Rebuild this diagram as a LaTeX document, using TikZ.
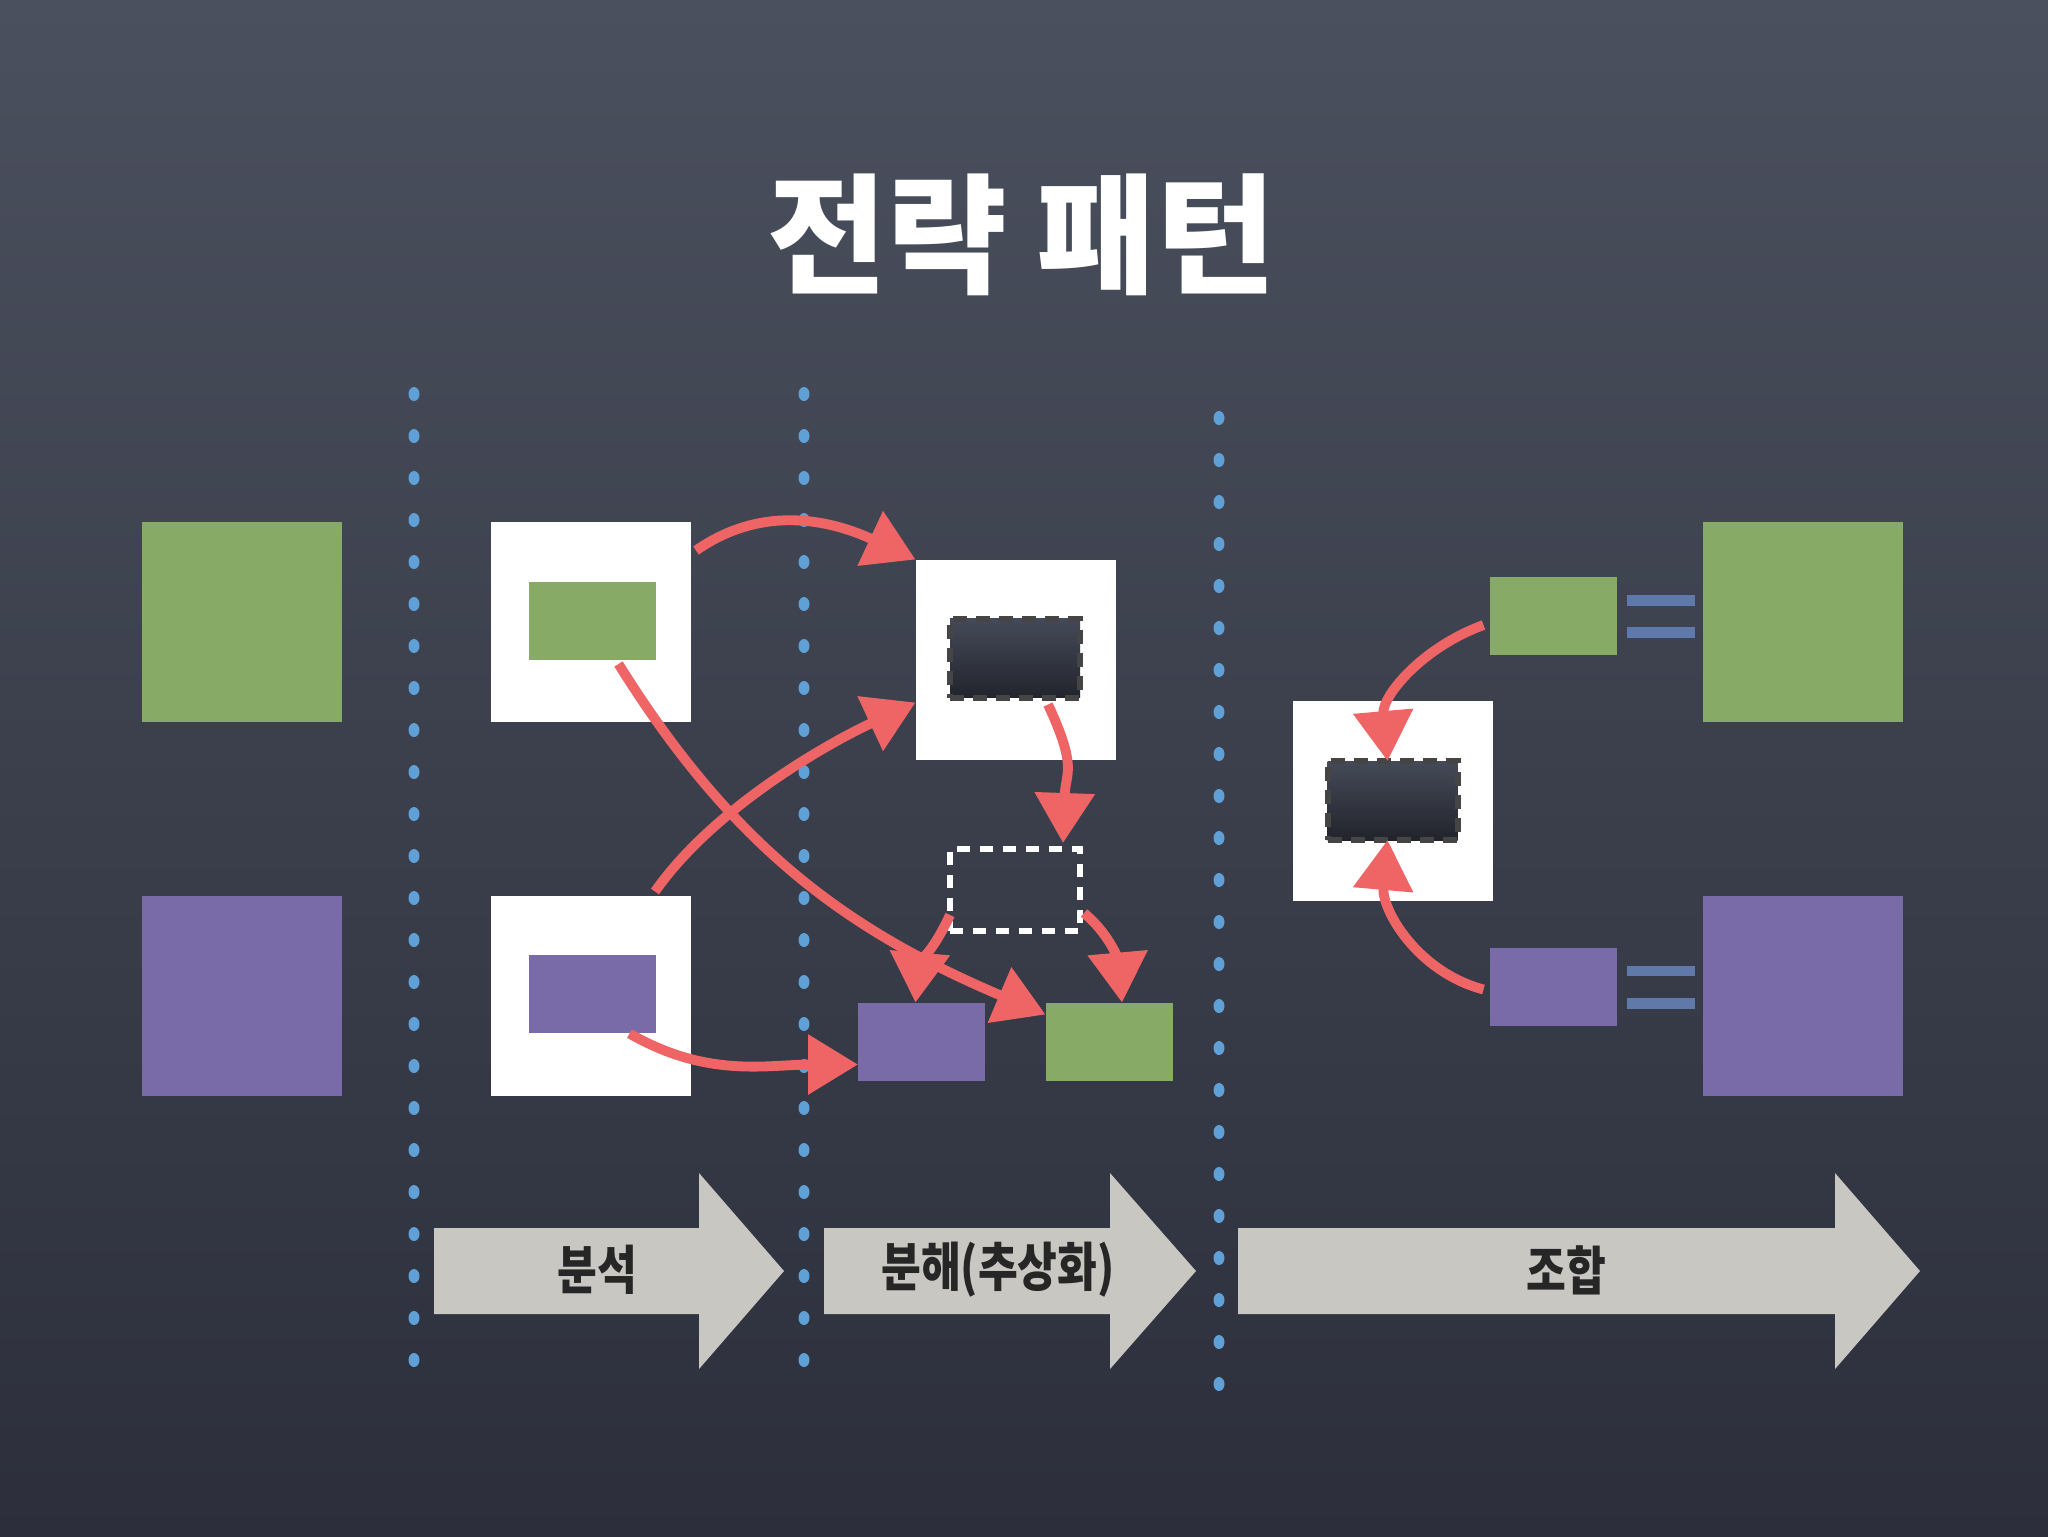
\documentclass[tikz,border=0pt]{standalone}
\usepackage{fontspec}
\usepackage{tikz}
\usetikzlibrary{arrows.meta,positioning,calc}
\newfontfamily\krtitle{Noto Sans CJK KR}
\newfontfamily\krlabel[FakeStretch=0.82]{Noto Sans CJK KR}
\definecolor{boardtop}{HTML}{4B505E}
\definecolor{boardbot}{HTML}{2C2F3B}
\definecolor{leafgreen}{HTML}{87AA67}
\definecolor{grape}{HTML}{796BA8}
\definecolor{chalkred}{HTML}{EF6565}
\definecolor{dotblue}{HTML}{5FA0D7}
\definecolor{stagegray}{HTML}{C8C7C2}
\definecolor{eqblue}{HTML}{5F7AAA}
\definecolor{holetop}{HTML}{454A58}
\definecolor{holebot}{HTML}{22242C}
\definecolor{holeedge}{HTML}{454545}

\begin{document}
\begin{tikzpicture}[
        x=0.1mm, y=-0.1mm,
        node distance=17.4mm,
        every node/.style={inner sep=0pt, outer sep=0pt},
        bigsq/.style={minimum width=20mm, minimum height=20mm},
        whitebox/.style={fill=white, minimum width=20mm, minimum height=20mm},
        chip/.style={minimum width=12.7mm, minimum height=7.8mm},
        hole/.style={minimum width=13mm, minimum height=7.9mm, top color=holetop, bottom color=holebot, draw=holeedge, line width=0.6mm, dash pattern=on 1.4mm off 0.9mm},
        slot/.style={minimum width=13mm, minimum height=8.2mm, draw=white, line width=0.55mm, dash pattern=on 1.3mm off 1mm},
        chalk/.style={draw=chalkred, line width=2.8pt, -{Triangle[length=5mm, width=5.8mm]}},
        stagelabel/.style={text=black!85, font=\krlabel\bfseries\fontsize{15pt}{18pt}\selectfont},
        eqbar/.style={fill=eqblue}
    ]
    \shade[top color=boardtop, bottom color=boardbot] (0,0) rectangle (2048,1536);
    \useasboundingbox (0,0) rectangle (2048,1536);

    \node[text=white, font=\krtitle\bfseries\fontsize{37pt}{40pt}\selectfont] (title) at (1022,235) {전략 패턴};

    \foreach \x/\ys in {414/394, 804/394, 1219/418}
        \foreach \i in {0,...,23}
            \fill[dotblue] (\x,\ys+42*\i) ellipse [x radius=0.55mm, y radius=0.7mm];

    \node[bigsq, fill=leafgreen] (srcG) at (241.5,621.5) {};
    \node[bigsq, fill=grape] (srcP) [below=of srcG] {};

    \node[whitebox] (anaG) at (591,621.5) {};
    \node[chip, fill=leafgreen] (anaGi) at (592.5,621) {};
    \node[whitebox] (anaP) [below=of anaG] {};
    \node[chip, fill=grape] (anaPi) at (592.5,993.5) {};

    \node[whitebox] (decW) at (1015.5,659.5) {};
    \node[hole] (decD) at (1015,658) {};
    \node[slot] (decE) at (1015,890) {};
    \node[chip, fill=grape] (decP) at (921.5,1041.5) {};
    \node[chip, fill=leafgreen] (decG) at (1109,1041.5) {};

    \node[whitebox] (comW) at (1393,801) {};
    \node[hole] (comD) at (1392.5,800.5) {};
    \node[chip, fill=leafgreen] (comG) at (1553,616) {};
    \node[chip, fill=grape] (comP) at (1553,986.5) {};

    \node[bigsq, fill=leafgreen] (dstG) at (1803,621.5) {};
    \node[bigsq, fill=grape] (dstP) [below=of dstG] {};

    \foreach \n in {comG, comP} {
        \fill[eqbar] ($(\n.east)+(10,-21)$) rectangle ++(68,10.5);
        \fill[eqbar] ($(\n.east)+(10,11)$) rectangle ++(68,11);
    }

    \draw[chalk] ([xshift=0.5mm,yshift=-2.9mm]anaG.north east) to[out=35,in=155] (decW.north west);
    \draw[chalk] ([xshift=2.6mm,yshift=-0.4mm]anaGi.south) to[out=-58,in=157] ([yshift=-1.2mm]decG.north west);
    \draw[chalk] ([xshift=-3.6mm,yshift=0.4mm]anaP.north east) to[out=55,in=-155,looseness=0.8] ([yshift=5.7mm]decW.south west);
    \draw[chalk] ([xshift=3.7mm,yshift=-0.1mm]anaPi.south) to[out=-30,in=180] ([yshift=1.6mm]decP.south west);
    \draw[chalk] ([xshift=-3.2mm,yshift=-0.7mm]decD.south east) to[out=-65,in=88,looseness=1.3] ([xshift=-1.7mm,yshift=0.6mm]decE.north east);
    \draw[chalk] ([yshift=1.6mm]decE.south west) to[out=-115,in=85] ([xshift=-0.6mm]decP.north);
    \draw[chalk] ([xshift=0.4mm,yshift=1.8mm]decE.south east) to[out=-40,in=95] ([xshift=1.3mm]decG.north);
    \draw[chalk] ([xshift=-0.6mm,yshift=-0.9mm]comG.west) to[out=200,in=95] ([xshift=-0.5mm]comD.north);
    \draw[chalk] ([xshift=-0.6mm,yshift=-0.3mm]comP.west) to[out=165,in=-95] ([xshift=-0.5mm]comD.south);

    \foreach \xa/\xb/\xc/\lx/\nm/\txt in {434/699/784/597/stepA/분석, 824/1110/1196/998/stepB/분해(추상화), 1238/1835/1920/1566/stepC/조합} {
        \fill[stagegray] (\xa,1228) -- (\xb,1228) -- (\xb,1173) -- (\xc,1271) -- (\xb,1369) -- (\xb,1314) -- (\xa,1314) -- cycle;
        \node[stagelabel] (\nm) at (\lx,1270) {\txt};
    }
\end{tikzpicture}
\end{document}
